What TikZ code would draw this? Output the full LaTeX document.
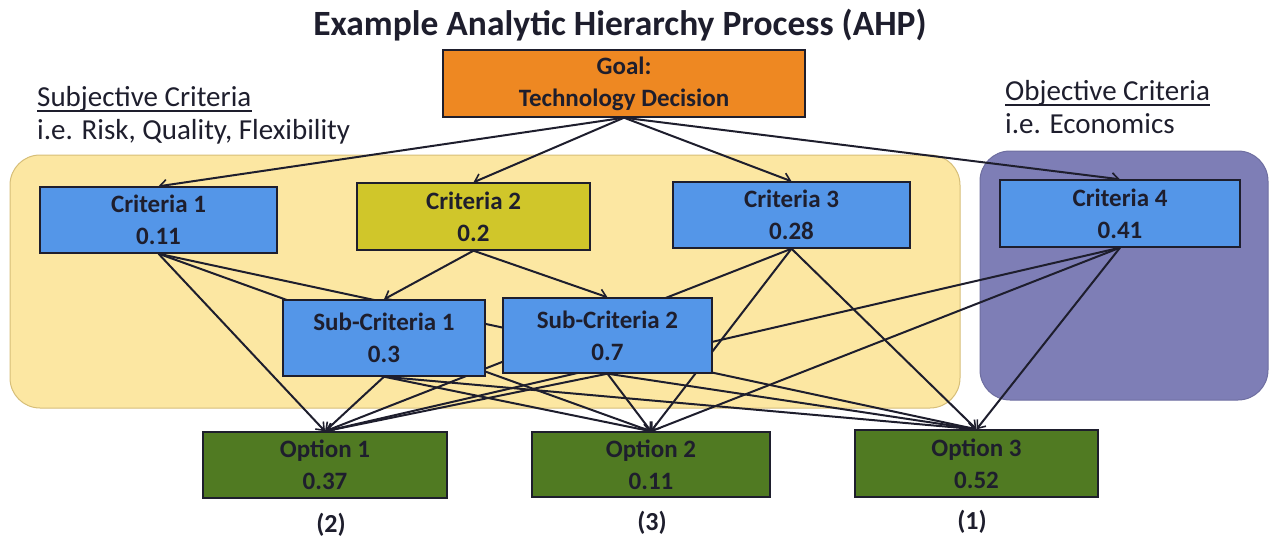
\documentclass[tikz,border=0pt]{standalone}
\usepackage{fontspec}
\setmainfont{Carlito}
\usetikzlibrary{arrows.meta}
\pgfdeclarelayer{bg}
\pgfdeclarelayer{edges}
\pgfsetlayers{bg,edges,main}
\definecolor{goalor}{RGB}{238,136,34}
\definecolor{critblue}{RGB}{84,150,232}
\definecolor{crityel}{RGB}{208,198,42}
\definecolor{optgreen}{RGB}{80,122,34}
\definecolor{subjbg}{RGB}{252,231,162}
\definecolor{subjbd}{RGB}{214,190,120}
\definecolor{objbg}{RGB}{126,126,182}
\definecolor{objbd}{RGB}{110,110,160}
\definecolor{ink}{RGB}{30,30,45}
\begin{document}
\begin{tikzpicture}[x=1pt,y=-1pt,
  box/.style={draw=ink, line width=1.4pt, align=center, font=\fontsize{25}{32}\selectfont\bfseries, text=ink, inner sep=0pt},
  edge/.style={draw=ink, line width=2pt, -{Straight Barb[length=7pt,width=11pt,line width=1.6pt]}},
  lbl/.style={font=\fontsize{29}{34}\selectfont, text=ink, inner sep=0pt, anchor=base west},
  rank/.style={font=\fontsize{26}{30}\selectfont\bfseries, text=ink, inner sep=0pt},
  region/.style={rounded corners=30pt, line width=1pt}
]
\useasboundingbox (0,0) rectangle (1270,541);

% title
\node[font=\fontsize{35.5}{40}\selectfont\bfseries, text=ink, inner sep=0pt] (title) at (620,25) {Example Analytic Hierarchy Process (AHP)};

% region backgrounds
\begin{pgfonlayer}{bg}
\path[region, fill=subjbg, draw=subjbd] (10,155) rectangle (960,408);
\path[region, fill=objbg, draw=objbd] (980,151) rectangle (1268,400);
\end{pgfonlayer}

% side labels
\node[lbl] (subj) at (37,106) {Subjective Criteria};
\draw[ink, line width=1.3pt] ([yshift=-5pt]subj.base west) -- ([yshift=-5pt]subj.base east);
\node[lbl] (subjex) at (37,139) {i.e. Risk, Quality, Flexibility};
\node[lbl] (obj) at (1005,100) {Objective Criteria};
\draw[ink, line width=1.3pt] ([yshift=-5pt]obj.base west) -- ([yshift=-5pt]obj.base east);
\node[lbl] (objex) at (1005,133) {i.e. Economics};

% boxes
\node[box, fill=goalor, minimum width=362pt, minimum height=67pt] (goal) at (624,83.5) {Goal:\\Technology Decision};
\node[box, fill=critblue, minimum width=237pt, minimum height=66pt] (c1) at (158.5,220) {Criteria 1\\0.11};
\node[box, fill=crityel, minimum width=233pt, minimum height=67pt] (c2) at (473.5,216.5) {Criteria 2\\0.2};
\node[box, fill=critblue, minimum width=237pt, minimum height=66pt] (c3) at (791.5,215) {Criteria 3\\0.28};
\node[box, fill=critblue, minimum width=240pt, minimum height=67pt] (c4) at (1120,213.5) {Criteria 4\\0.41};
\node[box, fill=critblue, minimum width=202pt, minimum height=76pt] (sc1) at (384,338) {Sub-Criteria 1\\0.3};
\node[box, fill=critblue, minimum width=209pt, minimum height=75pt] (sc2) at (607.5,335.5) {Sub-Criteria 2\\0.7};
\node[box, fill=optgreen, minimum width=244pt, minimum height=66pt] (o1) at (325,465) {Option 1\\0.37};
\node[box, fill=optgreen, minimum width=238pt, minimum height=65pt] (o2) at (651,464.5) {Option 2\\0.11};
\node[box, fill=optgreen, minimum width=243pt, minimum height=67pt] (o3) at (976.5,463.5) {Option 3\\0.52};

% ranks
\node[rank] (r1) at (331,525) {(2)};
\node[rank] (r2) at (652,523) {(3)};
\node[rank] (r3) at (972,522) {(1)};

% connectors
\begin{pgfonlayer}{edges}
\foreach \t in {c1,c2,c3,c4} \draw[edge] (goal.south) -- (\t.north);
\foreach \t in {sc1,sc2} \draw[edge] (c2.south) -- (\t.north);
\foreach \s in {c1,sc1,sc2,c3,c4}
  \foreach \t in {o1,o2,o3}
    \draw[edge] (\s.south) -- (\t.north);
\end{pgfonlayer}
\end{tikzpicture}
\end{document}
